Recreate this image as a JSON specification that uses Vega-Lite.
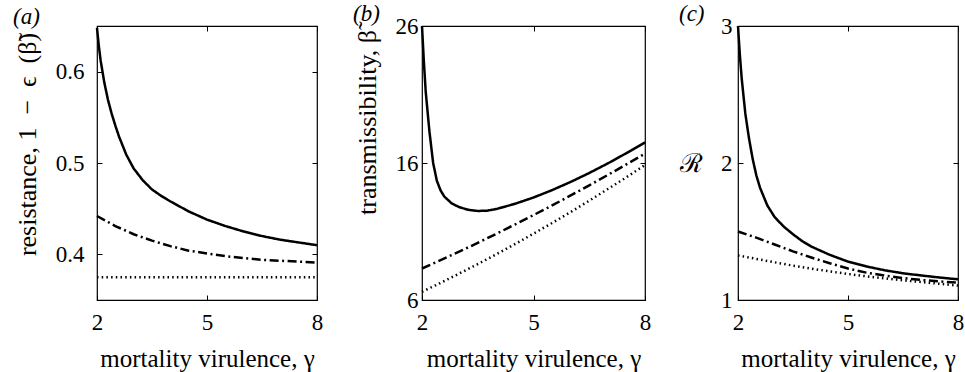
{
  "$schema": "https://vega.github.io/schema/vega-lite/v6.json",
  "padding": {"left": 12, "top": 2, "right": 0, "bottom": 0},
  "background": "white",
  "config": {
    "font": "Liberation Serif",
    "view": {"stroke": "black", "strokeWidth": 1.2},
    "axis": {
      "domain": false, "grid": false, "ticks": true, "tickSize": -5, "tickColor": "black", "tickWidth": 1,
      "labelColor": "black", "labelFontSize": 23, "labelFont": "Liberation Serif", "labelFlush": false, "labelOverlap": false, "labelBound": false,
      "titleColor": "black", "titleFontSize": 25, "titleFont": "Liberation Serif", "titleFontWeight": "normal"
    },
    "title": {"fontSize": 23, "fontWeight": "normal", "fontStyle": "italic", "font": "Liberation Serif", "anchor": "start", "frame": "group", "color": "black"},
    "line": {"color": "black", "strokeCap": "butt", "clip": false}
  },
  "hconcat": [
    {
      "width": 220, "height": 274,
      "title": {"text": "(a)", "dx": -84, "offset": -6},
      "data": {"values": [
        {"g": 2, "v": 0.648, "s": "solid"}, {"g": 2.05, "v": 0.628, "s": "solid"}, {"g": 2.1, "v": 0.612, "s": "solid"}, {"g": 2.2, "v": 0.588, "s": "solid"}, {"g": 2.3, "v": 0.569, "s": "solid"}, {"g": 2.4, "v": 0.554, "s": "solid"}, {"g": 2.5, "v": 0.541, "s": "solid"}, {"g": 2.6, "v": 0.529, "s": "solid"}, {"g": 2.8, "v": 0.509, "s": "solid"}, {"g": 3, "v": 0.494, "s": "solid"}, {"g": 3.25, "v": 0.481, "s": "solid"}, {"g": 3.5, "v": 0.471, "s": "solid"}, {"g": 3.75, "v": 0.464, "s": "solid"}, {"g": 4, "v": 0.458, "s": "solid"}, {"g": 4.5, "v": 0.447, "s": "solid"}, {"g": 5, "v": 0.438, "s": "solid"}, {"g": 5.5, "v": 0.431, "s": "solid"}, {"g": 6, "v": 0.425, "s": "solid"}, {"g": 6.5, "v": 0.42, "s": "solid"}, {"g": 7, "v": 0.416, "s": "solid"}, {"g": 7.5, "v": 0.413, "s": "solid"}, {"g": 8, "v": 0.41, "s": "solid"},
        {"g": 2, "v": 0.442, "s": "dashdot"}, {"g": 2.5, "v": 0.431, "s": "dashdot"}, {"g": 3, "v": 0.422, "s": "dashdot"}, {"g": 3.5, "v": 0.415, "s": "dashdot"}, {"g": 4, "v": 0.409, "s": "dashdot"}, {"g": 4.5, "v": 0.404, "s": "dashdot"}, {"g": 5, "v": 0.401, "s": "dashdot"}, {"g": 5.5, "v": 0.398, "s": "dashdot"}, {"g": 6, "v": 0.396, "s": "dashdot"}, {"g": 6.5, "v": 0.394, "s": "dashdot"}, {"g": 7, "v": 0.393, "s": "dashdot"}, {"g": 7.5, "v": 0.392, "s": "dashdot"}, {"g": 8, "v": 0.391, "s": "dashdot"},
        {"g": 2, "v": 0.375, "s": "dotted"}, {"g": 3, "v": 0.375, "s": "dotted"}, {"g": 4, "v": 0.375, "s": "dotted"}, {"g": 5, "v": 0.375, "s": "dotted"}, {"g": 6, "v": 0.375, "s": "dotted"}, {"g": 7, "v": 0.375, "s": "dotted"}, {"g": 8, "v": 0.375, "s": "dotted"}
      ]},
      "layer": [
        {
          "mark": {"type": "line"},
          "encoding": {
            "x": {"field": "g", "type": "quantitative", "scale": {"domain": [2, 8], "nice": false, "zero": false},
                  "axis": {"orient": "bottom", "values": [2, 5, 8], "format": ".0f", "labelPadding": 16, "title": "mortality virulence, γ", "titlePadding": 12}},
            "y": {"field": "v", "type": "quantitative", "scale": {"domain": [0.35, 0.65], "nice": false, "zero": false},
                  "axis": {"orient": "left", "values": [0.4, 0.5, 0.6], "format": ".1f", "labelPadding": 18, "title": "resistance, 1\u2002−\u2002ϵ\u2002(β̃)", "titleFontSize": 26, "titlePadding": 15, "titleY": 118}},
            "strokeDash": {"field": "s", "type": "nominal", "scale": {"domain": ["solid", "dashdot", "dotted"], "range": [[1, 0], [9, 3.5, 2, 3.5], [1.5, 3.2]]}, "legend": null},
            "strokeWidth": {"field": "s", "type": "nominal", "scale": {"domain": ["solid", "dashdot", "dotted"], "range": [2.5, 2.5, 1.8]}, "legend": null}
          }
        },
        {
          "mark": {"type": "line", "opacity": 0},
          "encoding": {
            "x": {"field": "g", "type": "quantitative", "axis": {"orient": "top", "values": [2, 5, 8], "labels": false, "title": null}},
            "y": {"field": "v", "type": "quantitative", "axis": {"orient": "right", "values": [0.4, 0.5, 0.6], "labels": false, "title": null}},
            "detail": {"field": "s"}
          }
        }
      ],
      "resolve": {"axis": {"x": "independent", "y": "independent"}}
    },
    {
      "hconcat": [
        {
          "width": 223, "height": 274,
          "title": {"text": "(b)", "dx": -69, "offset": -11},
          "data": {"values": [
            {"g": 2, "v": 26.0, "s": "solid"}, {"g": 2.05, "v": 23.4, "s": "solid"}, {"g": 2.1, "v": 21.2, "s": "solid"}, {"g": 2.2, "v": 18.3, "s": "solid"}, {"g": 2.3, "v": 16.0, "s": "solid"}, {"g": 2.4, "v": 14.7, "s": "solid"}, {"g": 2.5, "v": 14.0, "s": "solid"}, {"g": 2.6, "v": 13.55, "s": "solid"}, {"g": 2.8, "v": 13.05, "s": "solid"}, {"g": 3, "v": 12.78, "s": "solid"}, {"g": 3.25, "v": 12.58, "s": "solid"}, {"g": 3.5, "v": 12.5, "s": "solid"}, {"g": 3.75, "v": 12.52, "s": "solid"}, {"g": 4, "v": 12.64, "s": "solid"}, {"g": 4.5, "v": 13.02, "s": "solid"}, {"g": 5, "v": 13.48, "s": "solid"}, {"g": 5.5, "v": 14.02, "s": "solid"}, {"g": 6, "v": 14.62, "s": "solid"}, {"g": 6.5, "v": 15.27, "s": "solid"}, {"g": 7, "v": 15.97, "s": "solid"}, {"g": 7.5, "v": 16.72, "s": "solid"}, {"g": 8, "v": 17.5, "s": "solid"},
            {"g": 2, "v": 8.3, "s": "dashdot"}, {"g": 2.5, "v": 8.91, "s": "dashdot"}, {"g": 3, "v": 9.53, "s": "dashdot"}, {"g": 3.5, "v": 10.17, "s": "dashdot"}, {"g": 4, "v": 10.83, "s": "dashdot"}, {"g": 4.5, "v": 11.51, "s": "dashdot"}, {"g": 5, "v": 12.2, "s": "dashdot"}, {"g": 5.5, "v": 12.9, "s": "dashdot"}, {"g": 6, "v": 13.63, "s": "dashdot"}, {"g": 6.5, "v": 14.37, "s": "dashdot"}, {"g": 7, "v": 15.13, "s": "dashdot"}, {"g": 7.5, "v": 15.9, "s": "dashdot"}, {"g": 8, "v": 16.69, "s": "dashdot"},
            {"g": 2, "v": 6.6, "s": "dotted"}, {"g": 2.5, "v": 7.25, "s": "dotted"}, {"g": 3, "v": 7.93, "s": "dotted"}, {"g": 3.5, "v": 8.62, "s": "dotted"}, {"g": 4, "v": 9.34, "s": "dotted"}, {"g": 4.5, "v": 10.08, "s": "dotted"}, {"g": 5, "v": 10.84, "s": "dotted"}, {"g": 5.5, "v": 11.62, "s": "dotted"}, {"g": 6, "v": 12.42, "s": "dotted"}, {"g": 6.5, "v": 13.25, "s": "dotted"}, {"g": 7, "v": 14.1, "s": "dotted"}, {"g": 7.5, "v": 14.96, "s": "dotted"}, {"g": 8, "v": 15.85, "s": "dotted"}
          ]},
          "layer": [
            {
              "mark": {"type": "line"},
              "encoding": {
                "x": {"field": "g", "type": "quantitative", "scale": {"domain": [2, 8], "nice": false, "zero": false},
                      "axis": {"orient": "bottom", "values": [2, 5, 8], "format": ".0f", "labelPadding": 16, "title": "mortality virulence, γ", "titlePadding": 12}},
                "y": {"field": "v", "type": "quantitative", "scale": {"domain": [6, 26], "nice": false, "zero": false},
                      "axis": {"orient": "left", "values": [6, 16, 26], "format": ".0f", "labelPadding": 9, "title": "transmissibility, β̃", "titleFontSize": 26, "titlePadding": 15, "titleY": 96}},
                "strokeDash": {"field": "s", "type": "nominal", "scale": {"domain": ["solid", "dashdot", "dotted"], "range": [[1, 0], [9, 3.5, 2, 3.5], [1.5, 3.2]]}, "legend": null},
                "strokeWidth": {"field": "s", "type": "nominal", "scale": {"domain": ["solid", "dashdot", "dotted"], "range": [2.5, 2.5, 1.8]}, "legend": null}
              }
            },
            {
              "mark": {"type": "line", "opacity": 0},
              "encoding": {
                "x": {"field": "g", "type": "quantitative", "axis": {"orient": "top", "values": [2, 5, 8], "labels": false, "title": null}},
                "y": {"field": "v", "type": "quantitative", "axis": {"orient": "right", "values": [6, 16, 26], "labels": false, "title": null}},
                "detail": {"field": "s"}
              }
            }
          ],
          "resolve": {"axis": {"x": "independent", "y": "independent"}}
        },
        {
          "width": 220, "height": 274,
          "title": {"text": "(c)", "dx": -59, "offset": -11},
          "data": {"values": [
            {"g": 2, "v": 3.0, "s": "solid"}, {"g": 2.05, "v": 2.79, "s": "solid"}, {"g": 2.1, "v": 2.62, "s": "solid"}, {"g": 2.2, "v": 2.36, "s": "solid"}, {"g": 2.3, "v": 2.18, "s": "solid"}, {"g": 2.4, "v": 2.03, "s": "solid"}, {"g": 2.5, "v": 1.91, "s": "solid"}, {"g": 2.6, "v": 1.82, "s": "solid"}, {"g": 2.8, "v": 1.69, "s": "solid"}, {"g": 3, "v": 1.605, "s": "solid"}, {"g": 3.25, "v": 1.535, "s": "solid"}, {"g": 3.5, "v": 1.48, "s": "solid"}, {"g": 3.75, "v": 1.43, "s": "solid"}, {"g": 4, "v": 1.39, "s": "solid"}, {"g": 4.5, "v": 1.33, "s": "solid"}, {"g": 5, "v": 1.28, "s": "solid"}, {"g": 5.5, "v": 1.245, "s": "solid"}, {"g": 6, "v": 1.217, "s": "solid"}, {"g": 6.5, "v": 1.195, "s": "solid"}, {"g": 7, "v": 1.179, "s": "solid"}, {"g": 7.5, "v": 1.164, "s": "solid"}, {"g": 8, "v": 1.151, "s": "solid"},
            {"g": 2, "v": 1.5, "s": "dashdot"}, {"g": 2.5, "v": 1.455, "s": "dashdot"}, {"g": 3, "v": 1.405, "s": "dashdot"}, {"g": 3.5, "v": 1.355, "s": "dashdot"}, {"g": 4, "v": 1.31, "s": "dashdot"}, {"g": 4.5, "v": 1.268, "s": "dashdot"}, {"g": 5, "v": 1.23, "s": "dashdot"}, {"g": 5.5, "v": 1.2, "s": "dashdot"}, {"g": 6, "v": 1.178, "s": "dashdot"}, {"g": 6.5, "v": 1.16, "s": "dashdot"}, {"g": 7, "v": 1.146, "s": "dashdot"}, {"g": 7.5, "v": 1.135, "s": "dashdot"}, {"g": 8, "v": 1.126, "s": "dashdot"},
            {"g": 2, "v": 1.325, "s": "dotted"}, {"g": 2.5, "v": 1.3, "s": "dotted"}, {"g": 3, "v": 1.275, "s": "dotted"}, {"g": 3.5, "v": 1.251, "s": "dotted"}, {"g": 4, "v": 1.229, "s": "dotted"}, {"g": 4.5, "v": 1.209, "s": "dotted"}, {"g": 5, "v": 1.19, "s": "dotted"}, {"g": 5.5, "v": 1.173, "s": "dotted"}, {"g": 6, "v": 1.158, "s": "dotted"}, {"g": 6.5, "v": 1.144, "s": "dotted"}, {"g": 7, "v": 1.131, "s": "dotted"}, {"g": 7.5, "v": 1.118, "s": "dotted"}, {"g": 8, "v": 1.105, "s": "dotted"}
          ]},
          "layer": [
            {
              "mark": {"type": "line"},
              "encoding": {
                "x": {"field": "g", "type": "quantitative", "scale": {"domain": [2, 8], "nice": false, "zero": false},
                      "axis": {"orient": "bottom", "values": [2, 5, 8], "format": ".0f", "labelPadding": 16, "title": "mortality virulence, γ", "titlePadding": 12}},
                "y": {"field": "v", "type": "quantitative", "scale": {"domain": [1, 3], "nice": false, "zero": false},
                      "axis": {"orient": "left", "values": [1, 2, 3], "format": ".0f", "labelPadding": 11, "labelOverlap": false, "title": "ℛ", "titleAngle": 0, "titleAlign": "center", "titleBaseline": "middle", "titleX": -47, "titleY": 137, "titleFontSize": 26}},
                "strokeDash": {"field": "s", "type": "nominal", "scale": {"domain": ["solid", "dashdot", "dotted"], "range": [[1, 0], [9, 3.5, 2, 3.5], [1.5, 3.2]]}, "legend": null},
                "strokeWidth": {"field": "s", "type": "nominal", "scale": {"domain": ["solid", "dashdot", "dotted"], "range": [2.5, 2.5, 1.8]}, "legend": null}
              }
            },
            {
              "mark": {"type": "line", "opacity": 0},
              "encoding": {
                "x": {"field": "g", "type": "quantitative", "axis": {"orient": "top", "values": [2, 5, 8], "labels": false, "title": null}},
                "y": {"field": "v", "type": "quantitative", "axis": {"orient": "right", "values": [1, 2, 3], "labels": false, "title": null}},
                "detail": {"field": "s"}
              }
            }
          ],
          "resolve": {"axis": {"x": "independent", "y": "independent"}}
        }
      ],
      "spacing": 93,
      "bounds": "flush"
    }
  ],
  "spacing": 105,
  "bounds": "flush"
}
